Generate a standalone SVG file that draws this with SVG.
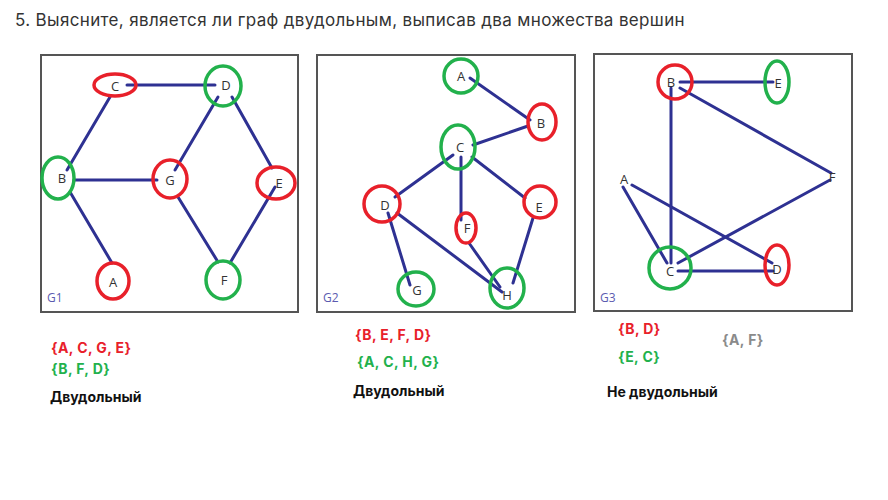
<svg xmlns="http://www.w3.org/2000/svg" width="888" height="500" viewBox="0 0 888 500">
  <style>
    .title { font-family: Inter, Roboto, "Noto Sans", sans-serif; font-size: 17px; letter-spacing: 0.35px; fill: #333333; }
    .panel { fill: #ffffff; stroke: #555555; stroke-width: 2; }
    .edge { stroke: #2e3192; stroke-width: 3; stroke-linecap: round; fill: none; }
    .red { fill: none; stroke: #e8202a; stroke-width: 3.5; }
    .green { fill: none; stroke: #22b14c; stroke-width: 3.5; }
    .lbl { font-family: "Open Sans", "Liberation Sans", sans-serif; font-size: 13px; fill: #333333; text-anchor: middle; }
    .gname { font-family: "Open Sans", "Liberation Sans", sans-serif; font-size: 12px; fill: #5b5bb0; }
    .set { font-family: Inter, "Noto Sans", sans-serif; font-size: 14px; font-weight: 700; letter-spacing: 0.4px; }
    .setR { fill: #e8202a; }
    .setG { fill: #22b14c; }
    .setX { fill: #8a8a8a; }
    .verdict { font-family: Inter, "Noto Sans", sans-serif; font-size: 14px; font-weight: 700; fill: #111111; }
  </style>

  <rect width="888" height="500" fill="#ffffff"/>

  <text class="title" x="15" y="26">5. Выясните, является ли граф двудольным, выписав два множества вершин</text>

  <!-- Graph G1 -->
  <g id="panel-g1">
    <rect class="panel" x="41" y="55" width="257" height="257"/>
    <text class="gname" x="47" y="302">G1</text>
  </g>
  <g id="g1-edges">
    <line class="edge" x1="127" y1="85" x2="215" y2="85"/>
    <line class="edge" x1="110" y1="97" x2="67" y2="170"/>
    <line class="edge" x1="74" y1="180" x2="157" y2="180"/>
    <line class="edge" x1="70" y1="192" x2="112" y2="263"/>
    <line class="edge" x1="218" y1="97" x2="175" y2="170"/>
    <line class="edge" x1="232" y1="97" x2="272" y2="168"/>
    <line class="edge" x1="178" y1="197" x2="218" y2="262"/>
    <line class="edge" x1="275" y1="187" x2="230" y2="263"/>
  </g>
  <g id="g1-C"><ellipse class="red" cx="115" cy="85" rx="21" ry="11"/><text class="lbl" x="115" y="91">C</text></g>
  <g id="g1-D"><ellipse class="green" cx="223" cy="86" rx="18" ry="20"/><text class="lbl" x="226" y="90">D</text></g>
  <g id="g1-B"><ellipse class="green" cx="58" cy="178" rx="16" ry="21"/><text class="lbl" x="62" y="183">B</text></g>
  <g id="g1-G"><ellipse class="red" cx="170" cy="179" rx="17" ry="19"/><text class="lbl" x="170" y="185">G</text></g>
  <g id="g1-E"><ellipse class="red" cx="276" cy="183" rx="19" ry="16"/><text class="lbl" x="279" y="188">E</text></g>
  <g id="g1-A"><ellipse class="red" cx="113" cy="281" rx="16" ry="18"/><text class="lbl" x="113" y="287">A</text></g>
  <g id="g1-F"><ellipse class="green" cx="223" cy="280" rx="17" ry="19"/><text class="lbl" x="224" y="285">F</text></g>

  <!-- Graph G2 -->
  <g id="panel-g2">
    <rect class="panel" x="317" y="55" width="258" height="257"/>
    <text class="gname" x="323" y="302">G2</text>
  </g>
  <g id="g2-edges">
    <line class="edge" x1="470" y1="78" x2="530" y2="120"/>
    <line class="edge" x1="528" y1="126" x2="473" y2="145"/>
    <line class="edge" x1="453" y1="155" x2="395" y2="197"/>
    <line class="edge" x1="472" y1="157" x2="525" y2="198"/>
    <line class="edge" x1="461" y1="157" x2="461" y2="220"/>
    <line class="edge" x1="388" y1="213" x2="410" y2="285"/>
    <line class="edge" x1="397" y1="213" x2="502" y2="292"/>
    <line class="edge" x1="469" y1="243" x2="500" y2="287"/>
    <line class="edge" x1="533" y1="218" x2="513" y2="283"/>
  </g>
  <g id="g2-A"><ellipse class="green" cx="461" cy="76" rx="17" ry="17"/><text class="lbl" x="461" y="81">A</text></g>
  <g id="g2-B"><ellipse class="red" cx="542" cy="122" rx="14" ry="18"/><text class="lbl" x="541" y="128">B</text></g>
  <g id="g2-C"><ellipse class="green" cx="458" cy="147" rx="17" ry="22"/><text class="lbl" x="460" y="152">C</text></g>
  <g id="g2-D"><ellipse class="red" cx="382" cy="204" rx="18" ry="18"/><text class="lbl" x="385" y="210">D</text></g>
  <g id="g2-E"><ellipse class="red" cx="540" cy="202" rx="16" ry="16"/><text class="lbl" x="539" y="212">E</text></g>
  <g id="g2-F"><ellipse class="red" cx="466" cy="228" rx="10" ry="15"/><text class="lbl" x="467" y="233">F</text></g>
  <g id="g2-G"><ellipse class="green" cx="416" cy="289" rx="18" ry="17"/><text class="lbl" x="417" y="295">G</text></g>
  <g id="g2-H"><ellipse class="green" cx="507" cy="288" rx="17" ry="20"/><text class="lbl" x="507" y="300">H</text></g>

  <!-- Graph G3 -->
  <g id="panel-g3">
    <rect class="panel" x="594" y="54" width="258" height="257"/>
    <text class="gname" x="600" y="302">G3</text>
  </g>
  <g id="g3-edges">
    <line class="edge" x1="680" y1="82" x2="773" y2="82"/>
    <line class="edge" x1="671" y1="88" x2="671" y2="263"/>
    <line class="edge" x1="680" y1="88" x2="831" y2="173"/>
    <line class="edge" x1="623" y1="187" x2="667" y2="263"/>
    <line class="edge" x1="632" y1="185" x2="772" y2="263"/>
    <line class="edge" x1="678" y1="263" x2="830" y2="180"/>
    <line class="edge" x1="678" y1="271" x2="773" y2="271"/>
  </g>
  <g id="g3-B"><ellipse class="red" cx="675" cy="82" rx="17" ry="17"/><text class="lbl" x="671" y="87">B</text></g>
  <g id="g3-E"><ellipse class="green" cx="777" cy="82" rx="12" ry="21"/><text class="lbl" x="778" y="88">E</text></g>
  <g id="g3-F"><text class="lbl" x="832" y="182">F</text></g>
  <g id="g3-A"><text class="lbl" x="624" y="184">A</text></g>
  <g id="g3-C"><ellipse class="green" cx="670" cy="268" rx="21" ry="21"/><text class="lbl" x="670" y="276">C</text></g>
  <g id="g3-D"><ellipse class="red" cx="777" cy="265" rx="12" ry="20"/><text class="lbl" x="777" y="274">D</text></g>

  <!-- Vertex partitions and verdicts -->
  <g id="answer-g1">
    <text class="set setR" x="51" y="353">{A, C, G, E}</text>
    <text class="set setG" x="51" y="374">{B, F, D}</text>
    <text class="verdict" x="50" y="402">Двудольный</text>
  </g>
  <g id="answer-g2">
    <text class="set setR" x="355" y="340">{B, E, F, D}</text>
    <text class="set setG" x="357" y="367">{A, C, H, G}</text>
    <text class="verdict" x="353" y="396">Двудольный</text>
  </g>
  <g id="answer-g3">
    <text class="set setR" x="618" y="334">{B, D}</text>
    <text class="set setX" x="722" y="345">{A, F}</text>
    <text class="set setG" x="618" y="362">{E, C}</text>
    <text class="verdict" x="607" y="397">Не двудольный</text>
  </g>
</svg>
